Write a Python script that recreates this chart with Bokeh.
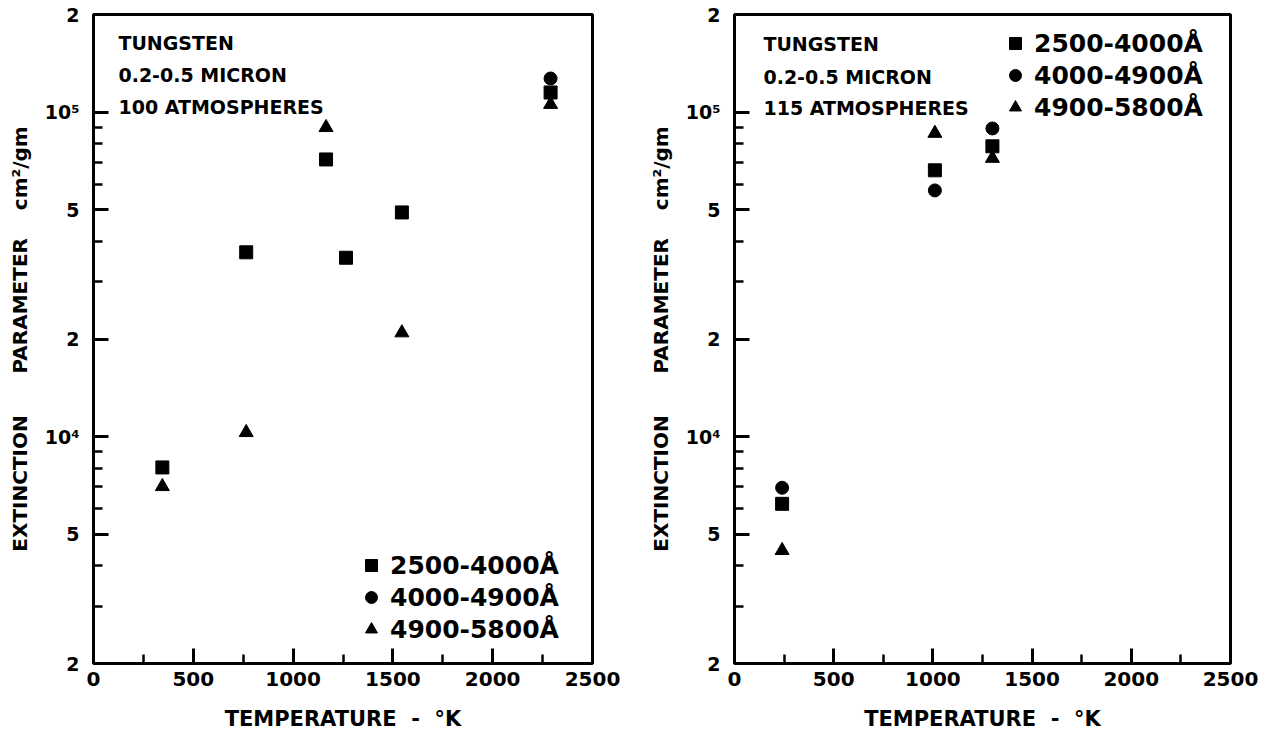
from bokeh.plotting import figure
from bokeh.layouts import row
from bokeh.models import (Range1d, FixedTicker, SingleIntervalTicker, Label,
                          Legend, LegendItem, ColumnDataSource)
from bokeh.embed import file_html
from bokeh.resources import INLINE

# ---------------- data ----------------
series_names = ["2500-4000Å", "4000-4900Å", "4900-5800Å"]
series_markers = ["square", "circle", "triangle"]

# Left panel: 100 atmospheres
a_notes = ["TUNGSTEN", "0.2-0.5 MICRON", "100 ATMOSPHERES"]
a_sq_T = [345, 765, 1165, 1265, 1545, 2290]
a_sq_k = [8040, 37000, 71500, 35600, 49100, 115000]
a_ci_T = [2290]
a_ci_k = [127000]
a_tr_T = [345, 765, 1165, 1545, 2290]
a_tr_k = [7020, 10300, 89700, 20900, 105700]

# Right panel: 115 atmospheres
b_notes = ["TUNGSTEN", "0.2-0.5 MICRON", "115 ATMOSPHERES"]
b_sq_T = [240, 1010, 1300]
b_sq_k = [6210, 66200, 78500]
b_ci_T = [240, 1010, 1300]
b_ci_k = [6960, 57400, 89100]
b_tr_T = [240, 1010, 1300]
b_tr_k = [4460, 86100, 72100]

x_ticks_interval = 500
y_ticks = [2000, 5000, 10000, 20000, 50000, 100000, 200000]
y_tick_labels = ["2", "5", "10\u2074", "2", "5", "10\u2075", "2"]
y_minor = [3000, 4000, 6000, 7000, 8000, 9000,
           30000, 40000, 60000, 70000, 80000, 90000]

x_label = "TEMPERATURE\u00a0\u00a0-\u00a0\u00a0°K"
y_label = ("EXTINCTION" + "\u00a0" * 6 + "PARAMETER" + "\u00a0" * 4 + "cm²/gm")

FONT = "DejaVu Sans"


def make_panel(width, border_left, border_right, notes, note_x, note_ys,
               series, legend_xy):
    p = figure(width=width, height=738,
               x_range=Range1d(0, 2500), y_range=Range1d(2000, 200000),
               y_axis_type="log", output_backend="svg",
               toolbar_location=None,
               min_border_left=border_left, min_border_right=border_right,
               min_border_top=14, min_border_bottom=75)
    p.background_fill_color = "white"
    p.border_fill_color = "white"
    p.grid.visible = False
    p.outline_line_color = "black"
    p.outline_line_width = 3

    # axes
    xa = p.xaxis[0]
    xa.ticker = SingleIntervalTicker(interval=x_ticks_interval, num_minor_ticks=2)
    ya = p.yaxis[0]
    ya.ticker = FixedTicker(ticks=y_ticks, minor_ticks=y_minor)
    ya.major_label_overrides = {t: l for t, l in zip(y_ticks, y_tick_labels)}
    for ax in (xa, ya):
        ax.axis_line_width = 3
        ax.axis_line_color = "black"
        ax.major_tick_in = 15
        ax.major_tick_out = 0
        ax.minor_tick_in = 9
        ax.minor_tick_out = 0
        ax.major_tick_line_width = 3
        ax.minor_tick_line_width = 2.5
        ax.major_tick_line_color = "black"
        ax.minor_tick_line_color = "black"
        ax.major_label_text_font = FONT
        ax.major_label_text_font_style = "bold"
        ax.major_label_text_font_size = "20px"
        ax.major_label_text_color = "black"
        ax.axis_label_text_font = FONT
        ax.axis_label_text_font_style = "bold"
        ax.axis_label_text_color = "black"
    xa.major_label_standoff = 8
    ya.major_label_standoff = 14
    ya.major_label_text_font_size = "19px"
    xa.axis_label = x_label
    xa.axis_label_text_font_size = "21px"
    xa.axis_label_standoff = 18
    ya.axis_label = y_label
    ya.axis_label_text_font_size = "20px"
    ya.axis_label_standoff = 10

    # data markers
    items = []
    for (tx, ky), name, mk in zip(series, series_names, series_markers):
        src = ColumnDataSource(dict(x=tx, y=ky))
        size = 13 if mk != "triangle" else 14
        r = p.scatter(x="x", y="y", source=src, marker=mk, size=size,
                      fill_color="black", line_color="black")
        items.append(LegendItem(label=name, renderers=[r]))

    legend = Legend(items=items, location=legend_xy,
                    border_line_alpha=0, background_fill_alpha=0,
                    padding=0, margin=0, spacing=0,
                    glyph_width=30, glyph_height=32, label_standoff=4,
                    label_text_font=FONT, label_text_font_style="bold",
                    label_text_font_size="25px", label_text_color="black")
    p.add_layout(legend)

    for txt, ny in zip(notes, note_ys):
        p.add_layout(Label(x=note_x, y=ny, text=txt,
                           text_font=FONT, text_font_style="bold",
                           text_font_size="19px", text_color="black",
                           text_baseline="middle", text_align="left"))
    return p


p1 = make_panel(640, 93, 48, a_notes, 125, [163900, 130600, 104100],
                [(a_sq_T, a_sq_k), (a_ci_T, a_ci_k), (a_tr_T, a_tr_k)],
                (263, 18))
p2 = make_panel(644, 94, 54, b_notes, 146, [161700, 128000, 102700],
                [(b_sq_T, b_sq_k), (b_ci_T, b_ci_k), (b_tr_T, b_tr_k)],
                (266, 540))

layout = row(p1, p2)
open("out.html", "w").write(file_html(layout, INLINE))
